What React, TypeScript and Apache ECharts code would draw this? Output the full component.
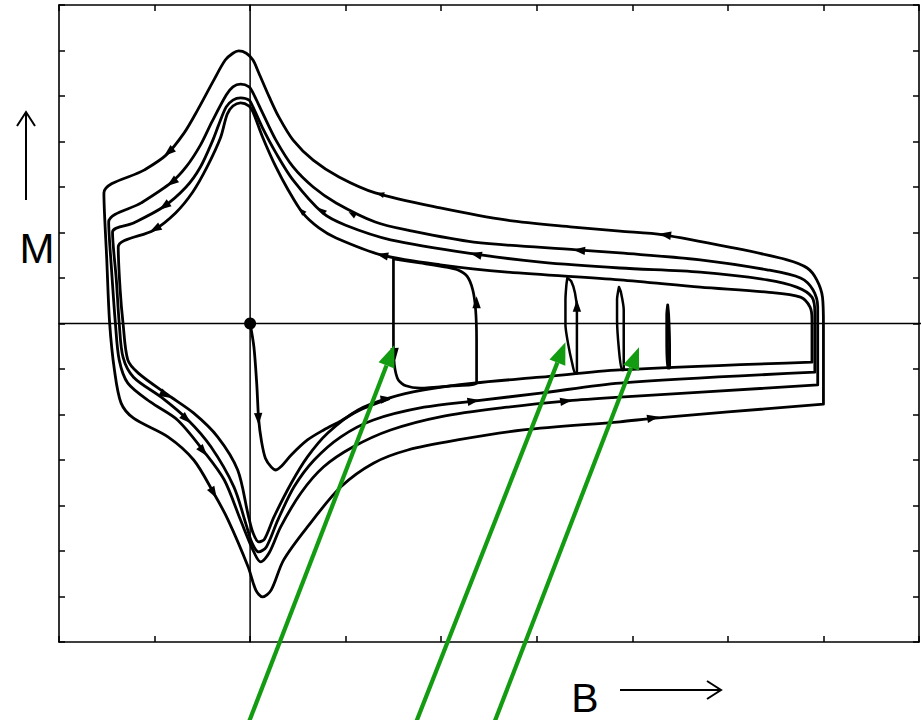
import React, { useEffect, useRef } from "react";
import * as echarts from "echarts";

// Axis ranges (B horizontal, M vertical) and tick step
const B_RANGE = [-2, 7];
const M_RANGE = [-7, 7];
const TICK_STEP = 1;

// Major hysteresis loops, outermost (1) to innermost (4), as [B, M]
const LOOP_1 = [
  [6.0, -1.77], [6.0, -0.03], [5.99, 0.58], [5.93, 0.96], [5.83, 1.22], [5.62, 1.4], [5.06, 1.66],
  [4.32, 1.95], [3.87, 2.03], [3.38, 2.12], [2.69, 2.27], [1.99, 2.54], [1.31, 2.87], [0.93, 3.22],
  [0.66, 3.59], [0.45, 4.03], [0.3, 4.54], [0.2, 4.98], [0.09, 5.51], [0.03, 5.79], [-0.04, 5.94],
  [-0.12, 5.99], [-0.18, 5.94], [-0.26, 5.79], [-0.38, 5.35], [-0.55, 4.69], [-0.69, 4.19],
  [-0.88, 3.7], [-1.11, 3.37], [-1.53, 2.87], [-1.5, 1.4], [-1.47, 0.01], [-1.42, -1.02],
  [-1.35, -1.75], [-1.22, -2.08], [-0.86, -2.49], [-0.59, -3.0], [-0.38, -3.73], [-0.23, -4.32],
  [-0.02, -5.35], [0.06, -5.86], [0.13, -6.01], [0.22, -5.86], [0.35, -5.2], [0.6, -4.47],
  [0.95, -3.59], [1.29, -3.07], [1.65, -2.78], [2.17, -2.56], [2.86, -2.34], [3.87, -2.16],
  [4.24, -2.08], [6.0, -1.77],
];
const LOOP_2 = [
  [5.94, -1.35], [5.94, 0.36], [5.89, 0.74], [5.76, 1.0], [5.41, 1.18], [4.71, 1.4], [3.87, 1.55],
  [3.42, 1.62], [2.34, 1.79], [1.65, 2.05], [1.31, 2.23], [0.9, 2.65], [0.66, 3.0], [0.45, 3.44],
  [0.27, 4.03], [0.13, 4.63], [0.03, 5.07], [-0.01, 5.2], [-0.1, 5.26], [-0.18, 5.2], [-0.25, 5.02],
  [-0.4, 4.43], [-0.52, 3.92], [-0.67, 3.44], [-0.83, 3.09], [-1.14, 2.65], [-1.48, 2.23],
  [-1.45, 1.18], [-1.41, 0.01], [-1.37, -0.8], [-1.28, -1.31], [-1.04, -1.73], [-0.76, -2.12],
  [-0.48, -2.82], [-0.27, -3.44], [-0.1, -4.32], [0.03, -4.98], [0.11, -5.24], [0.2, -5.04],
  [0.32, -4.47], [0.53, -3.73], [0.77, -3.15], [1.08, -2.71], [1.47, -2.34], [1.99, -2.05],
  [2.69, -1.84], [3.33, -1.7], [3.87, -1.62], [5.94, -1.35],
];
const LOOP_3 = [
  [5.91, -1.07], [5.91, 0.23], [5.88, 0.58], [5.72, 0.8], [5.41, 0.96], [4.71, 1.13], [3.87, 1.22],
  [3.04, 1.35], [2.34, 1.53], [1.47, 1.84], [1.0, 2.16], [0.76, 2.43], [0.45, 3.15], [0.27, 3.75],
  [0.13, 4.3], [0.03, 4.76], [-0.01, 4.91], [-0.1, 4.96], [-0.18, 4.91], [-0.25, 4.76],
  [-0.33, 4.36], [-0.39, 4.03], [-0.52, 3.44], [-0.67, 3.0], [-0.91, 2.56], [-1.22, 2.21],
  [-1.44, 2.01], [-1.4, 0.96], [-1.37, 0.01], [-1.33, -0.74], [-1.22, -1.18], [-0.93, -1.62],
  [-0.65, -2.12], [-0.41, -2.71], [-0.17, -3.59], [-0.04, -4.43], [0.02, -4.82], [0.09, -5.02],
  [0.17, -4.91], [0.29, -4.32], [0.46, -3.59], [0.67, -3.0], [0.95, -2.49], [1.29, -2.12],
  [1.82, -1.84], [2.36, -1.7], [3.04, -1.53], [3.87, -1.31], [5.91, -1.07],
];
const LOOP_4 = [
  [5.88, -0.85], [5.88, 0.08], [5.86, 0.36], [5.76, 0.58], [5.41, 0.69], [4.71, 0.8], [3.87, 0.96],
  [2.69, 1.13], [1.99, 1.29], [1.37, 1.51], [0.9, 1.88], [0.72, 2.1], [0.55, 2.43], [0.4, 2.93],
  [0.27, 3.44], [0.13, 4.1], [0.03, 4.65], [-0.01, 4.78], [-0.1, 4.85], [-0.18, 4.78],
  [-0.24, 4.6], [-0.31, 4.08], [-0.45, 3.44], [-0.6, 2.89], [-0.78, 2.43], [-1.01, 2.05],
  [-1.38, 1.68], [-1.36, 0.74], [-1.33, 0.01], [-1.28, -0.8], [-1.17, -1.09], [-0.86, -1.57],
  [-0.59, -1.97], [-0.34, -2.49], [-0.13, -3.22], [-0.02, -4.21], [0.03, -4.6], [0.09, -4.8],
  [0.15, -4.74], [0.25, -4.25], [0.43, -3.51], [0.6, -2.93], [0.81, -2.41], [1.13, -1.9],
  [1.45, -1.64], [1.82, -1.46], [2.34, -1.31], [3.04, -1.18], [3.87, -1.02], [5.88, -0.85],
];

// Initial (virgin) magnetisation curve from the origin
const VIRGIN = [
  [0, 0], [0.04, -0.52], [0.07, -1.35], [0.09, -2.12], [0.12, -2.6], [0.16, -2.96], [0.22, -3.15],
  [0.27, -3.22], [0.33, -3.13], [0.43, -2.89], [0.6, -2.56], [0.77, -2.34], [0.95, -2.14],
  [1.13, -1.92], [1.45, -1.66],
];
const ORIGIN = [[0, 0]];

// Minor loops
const MINOR_1 = [
  [1.5, 1.42], [1.78, 1.33], [2.05, 1.24], [2.17, 1.18], [2.27, 1.04], [2.33, 0.74], [2.36, 0.3],
  [2.37, -0.36], [2.37, -1.31], [2.1, -1.37], [1.78, -1.42], [1.63, -1.37], [1.55, -1.24],
  [1.51, -0.91], [1.5, -0.36], [1.5, 0.52], [1.5, 1.42],
];
const MINOR_2 = [
  [3.32, 1.0], [3.36, 0.93], [3.4, 0.67], [3.42, 0.3], [3.42, -0.36], [3.42, -1.09], [3.4, -1.09],
  [3.37, -0.87], [3.33, -0.47], [3.3, -0.03], [3.3, 0.52], [3.31, 0.85], [3.32, 1.0],
];
const MINOR_3 = [
  [3.86, 0.8], [3.88, 0.69], [3.91, 0.3], [3.91, -0.47], [3.91, -1.02], [3.89, -1.02],
  [3.86, -0.58], [3.84, 0.08], [3.84, 0.52], [3.86, 0.8],
];
const MINOR_4 = [
  [4.37, 0.41], [4.38, 0.19], [4.39, -0.47], [4.39, -0.98], [4.37, -0.98], [4.36, -0.36],
  [4.36, 0.19], [4.37, 0.41],
];

// Direction arrows: [B from, M from, B tip, M tip]
const ARROWS = [
  [-0.75, 3.95, -0.9, 3.68], [-0.72, 3.26, -0.87, 3.02], [-0.81, 2.71, -0.95, 2.5], [-0.9, 2.19, -1.05, 2.01],
  [-0.46, -3.44, -0.35, -3.84], [-0.58, -2.58, -0.45, -2.91], [-0.76, -1.92, -0.62, -2.19], [-0.98, -1.46, -0.83, -1.64],
  [1.34, -1.68, 1.49, -1.64], [2.25, -1.73, 2.4, -1.68], [3.22, -1.73, 3.37, -1.68], [4.14, -2.1, 4.28, -2.05],
  [4.43, 1.92, 4.28, 1.97], [3.53, 1.59, 3.38, 1.62], [2.44, 1.48, 2.3, 1.55], [1.47, 1.46, 1.32, 1.53],
  [0.08, -1.79, 0.09, -2.23], [2.37, 0.3, 2.37, 0.6], [1.51, -0.47, 1.52, -0.8], [3.42, 0.19, 3.42, 0.52],
];
const SMALL_ARROWS = [
  [0.63, 2.27, 0.51, 2.54], [0.86, 2.3, 0.72, 2.54], [1.18, 2.27, 1.03, 2.45], [1.47, 2.78, 1.32, 2.87],
];
// Green pointer arrows: [B tail, M tail, B tip, M tip]
const POINTERS = [
  [-0.02, -8.8, 1.51, -0.47],
  [1.73, -8.8, 3.3, -0.41],
  [2.55, -8.8, 4.07, -0.52],
];
const ZERO_V = [[0, M_RANGE[0]], [0, M_RANGE[1]]];
const ZERO_H = [[B_RANGE[0], 0], [7.03, 0]];

const GREEN = "#139b12";

function headPoints(p1: number[], p2: number[], len: number, half: number) {
  const dx = p2[0] - p1[0];
  const dy = p2[1] - p1[1];
  const l = Math.hypot(dx, dy) || 1;
  const ux = dx / l, uy = dy / l;
  const bx = p2[0] - ux * len, by = p2[1] - uy * len;
  return {
    base: [bx, by],
    pts: [[p2[0], p2[1]], [bx - uy * half, by + ux * half], [bx + uy * half, by - ux * half]],
  };
}

function arrowSeries(data: number[][], len: number, half: number) {
  return {
    type: "custom",
    data,
    encode: { x: [0, 2], y: [1, 3] },
    clip: false,
    silent: true,
    z: 6,
    renderItem: (_p: any, api: any) => {
      const p1 = api.coord([api.value(0), api.value(1)]);
      const p2 = api.coord([api.value(2), api.value(3)]);
      const h = headPoints(p1, p2, len, half);
      return { type: "polygon", shape: { points: h.pts }, style: { fill: "#000" } };
    },
  };
}

function curve(data: number[][], width = 2.8, smooth: number | boolean = 0.3) {
  return {
    type: "line",
    data,
    symbol: "none",
    showSymbol: false,
    smooth,
    silent: true,
    z: 3,
    lineStyle: { color: "#000", width, join: "round", cap: "round" },
  };
}

const axisCommon = {
  type: "value",
  interval: TICK_STEP,
  axisLine: { show: true, onZero: false, lineStyle: { color: "#000", width: 1.6 } },
  axisTick: { show: true, inside: true, length: 6, lineStyle: { color: "#000", width: 1.5 } },
  axisLabel: { show: false },
  splitLine: { show: false },
};

export default function App() {
  const ref = useRef<HTMLDivElement>(null);
  useEffect(() => {
    document.body.style.margin = "0";
    const chart = echarts.init(ref.current!, null, { renderer: "svg" });
    chart.setOption({
      animation: false,
      backgroundColor: "#fff",
      grid: { left: 59, right: 3, top: 5, bottom: 78 },
      xAxis: [
        { ...axisCommon, min: B_RANGE[0], max: B_RANGE[1], position: "bottom" },
        { ...axisCommon, min: B_RANGE[0], max: B_RANGE[1], position: "top" },
      ],
      yAxis: [
        { ...axisCommon, min: M_RANGE[0], max: M_RANGE[1], position: "left" },
        { ...axisCommon, min: M_RANGE[0], max: M_RANGE[1], position: "right" },
      ],
      series: [
        { ...curve(ZERO_V, 1.5, false), z: 2 },
        { ...curve(ZERO_H, 1.5, false), z: 2, clip: false },
        curve(LOOP_1),
        curve(LOOP_2),
        curve(LOOP_3),
        curve(LOOP_4),
        curve(VIRGIN),
        curve(MINOR_1, 2.7, 0.25),
        curve(MINOR_2, 2.5, 0.25),
        curve(MINOR_3, 2.5, 0.25),
        curve(MINOR_4, 2.8, 0.25),
        {
          type: "scatter",
          data: ORIGIN,
          symbol: "circle",
          symbolSize: 12,
          itemStyle: { color: "#000", opacity: 1 },
          silent: true,
          z: 5,
        },
        arrowSeries(ARROWS, 12, 4.2),
        arrowSeries(SMALL_ARROWS, 8, 3),
        {
          type: "custom",
          data: POINTERS,
          encode: { x: [0, 2], y: [1, 3] },
          clip: false,
          silent: true,
          z: 10,
          renderItem: (_p: any, api: any) => {
            const p1 = api.coord([api.value(0), api.value(1)]);
            const p2 = api.coord([api.value(2), api.value(3)]);
            const h = headPoints(p1, p2, 22, 8.5);
            return {
              type: "group",
              children: [
                {
                  type: "line",
                  shape: { x1: p1[0], y1: p1[1], x2: h.base[0], y2: h.base[1] },
                  style: { stroke: GREEN, lineWidth: 4.2 },
                },
                { type: "polygon", shape: { points: h.pts }, style: { fill: GREEN } },
              ],
            };
          },
        },
      ],
      graphic: [
        { type: "line", shape: { x1: 26, y1: 200, x2: 26, y2: 112 }, style: { stroke: "#000", lineWidth: 2 } },
        {
          type: "polyline",
          shape: { points: [[17, 126], [26, 112], [35, 126]] },
          style: { stroke: "#000", lineWidth: 2, fill: null },
        },
        {
          type: "text",
          x: 37,
          y: 248,
          style: {
            text: "M",
            font: '42px "Liberation Sans", Arial, sans-serif',
            fill: "#000",
            textAlign: "center",
            textVerticalAlign: "middle",
          },
        },
        {
          type: "text",
          x: 585,
          y: 698,
          style: {
            text: "B",
            font: '41px "Liberation Sans", Arial, sans-serif',
            fill: "#000",
            textAlign: "center",
            textVerticalAlign: "middle",
          },
        },
        { type: "line", shape: { x1: 620, y1: 690, x2: 721, y2: 690 }, style: { stroke: "#000", lineWidth: 2 } },
        {
          type: "polyline",
          shape: { points: [[707, 681], [721, 690], [707, 699]] },
          style: { stroke: "#000", lineWidth: 2, fill: null },
        },
      ],
    });
    return () => chart.dispose();
  }, []);
  return <div ref={ref} style={{ width: 922, height: 720, background: "#fff" }} />;
}
